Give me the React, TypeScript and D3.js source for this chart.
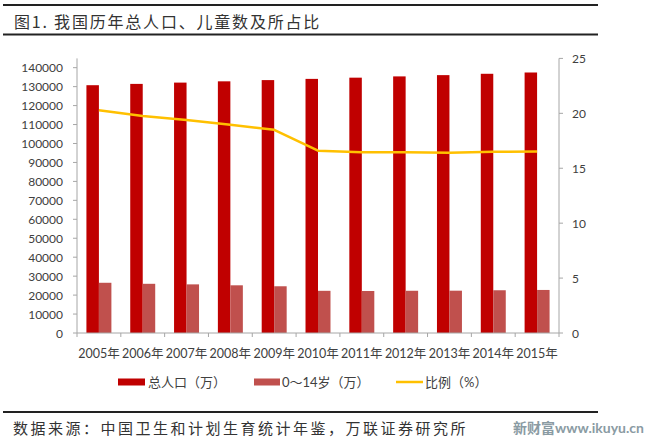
import React from "react";
import * as d3 from "d3";

const years = ["2005年", "2006年", "2007年", "2008年", "2009年", "2010年", "2011年", "2012年", "2013年", "2014年", "2015年"];
const totalPop = [130756, 131448, 132129, 132802, 133450, 134091, 134735, 135404, 136072, 136782, 137462];
const childPop = [26504, 25961, 25660, 25166, 24659, 22259, 22164, 22287, 22329, 22558, 22715];
const ratio = [20.27, 19.75, 19.4, 18.95, 18.5, 16.6, 16.45, 16.46, 16.41, 16.49, 16.52];
const leftTicks = [0, 10000, 20000, 30000, 40000, 50000, 60000, 70000, 80000, 90000, 100000, 110000, 120000, 130000, 140000];
const rightTicks = [0, 5, 10, 15, 20, 25];
const legendLabels = ["总人口（万）", "0～14岁（万）", "比例（%）"];
const title = "图1. 我国历年总人口、儿童数及所占比";
const source = "数据来源：中国卫生和计划生育统计年鉴，万联证券研究所";
const watermark = "新财富www.ikuyu.cn";

const C_TOTAL = "#C00000";
const C_CHILD = "#C0504D";
const C_LINE = "#FFC000";
const AXIS = "#A6A6A6";
const TXT = "#404040";
const FONT = "Lato, 'Noto Sans CJK SC', sans-serif";
const CJK = "'Noto Sans CJK SC', sans-serif";

export default function App() {
  const W = 660, H = 440;
  const x0 = 77, x1 = 559, yBottom = 333, yTop = 58.4;
  const x = d3.scaleBand<string>().domain(years).range([x0, x1]).paddingInner(0).paddingOuter(0);
  const yL = d3.scaleLinear().domain([0, 144900]).range([yBottom, yTop]);
  const yR = d3.scaleLinear().domain([0, 25]).range([yBottom, yTop]);
  const bw = x.bandwidth() * 0.285;
  const line = d3.line<number>()
    .x((_, i) => (x(years[i]) as number) + x.bandwidth() / 2)
    .y((d) => yR(d));

  return (
    <svg width={W} height={H} style={{ position: "absolute", left: 0, top: 0, background: "#fff" }}>
      {/* header */}
      <line x1={3} x2={598} y1={5} y2={5} stroke="#222" strokeWidth={2.2} />
      <line x1={3} x2={598} y1={34.5} y2={34.5} stroke="#222" strokeWidth={2.2} />
      <text x={14} y={21} dominantBaseline="central" fontFamily={CJK} fontSize={16} fill="#333" letterSpacing={1.8}>{title}</text>

      {/* bars */}
      {years.map((yr, i) => {
        const cx = (x(yr) as number) + x.bandwidth() / 2;
        return (
          <g key={yr}>
            <rect x={cx - bw} y={yL(totalPop[i])} width={bw} height={yBottom - yL(totalPop[i])} fill={C_TOTAL} />
            <rect x={cx} y={yL(childPop[i])} width={bw} height={yBottom - yL(childPop[i])} fill={C_CHILD} />
          </g>
        );
      })}

      {/* axes */}
      <line x1={x0} x2={x0} y1={yTop} y2={yBottom} stroke={AXIS} />
      <line x1={x1} x2={x1} y1={yTop} y2={yBottom} stroke={AXIS} />
      <line x1={x0} x2={x1} y1={yBottom} y2={yBottom} stroke={AXIS} />
      {leftTicks.map((t) => (
        <g key={"l" + t}>
          <line x1={x0 - 4} x2={x0} y1={yL(t)} y2={yL(t)} stroke={AXIS} />
          <text x={63} y={yL(t)} textAnchor="end" dominantBaseline="central" fontFamily={FONT} fontSize={12} fill={TXT}>{t}</text>
        </g>
      ))}
      {rightTicks.map((t) => (
        <g key={"r" + t}>
          <line x1={x1} x2={x1 + 4} y1={yR(t)} y2={yR(t)} stroke={AXIS} />
          <text x={572} y={yR(t)} dominantBaseline="central" fontFamily={FONT} fontSize={12} fill={TXT}>{t}</text>
        </g>
      ))}
      {[...years, "end"].map((yr, i) => {
        const xx = x0 + i * x.bandwidth();
        return <line key={"t" + i} x1={xx} x2={xx} y1={yBottom} y2={yBottom + 4} stroke={AXIS} />;
      })}
      {years.map((yr) => (
        <text key={"x" + yr} x={(x(yr) as number) + x.bandwidth() / 2} y={353} textAnchor="middle" dominantBaseline="central" fontFamily={FONT} fontSize={12.5} fill={TXT}>{yr}</text>
      ))}

      {/* line */}
      <path d={line(ratio) as string} fill="none" stroke={C_LINE} strokeWidth={2.5} strokeLinejoin="round" />

      {/* legend */}
      <rect x={118} y={378.5} width={27} height={7} fill={C_TOTAL} />
      <text x={148} y={382} dominantBaseline="central" fontFamily={FONT} fontSize={13} fill={TXT}>{legendLabels[0]}</text>
      <rect x={254} y={378.5} width={26} height={7} fill={C_CHILD} />
      <text x={282} y={382} dominantBaseline="central" fontFamily={FONT} fontSize={13} fill={TXT}>{legendLabels[1]}</text>
      <line x1={396} x2={423} y1={382} y2={382} stroke={C_LINE} strokeWidth={2.5} />
      <text x={425} y={382} dominantBaseline="central" fontFamily={FONT} fontSize={13} fill={TXT}>{legendLabels[2]}</text>

      {/* footer */}
      <line x1={3} x2={598} y1={412} y2={412} stroke="#222" strokeWidth={2.2} />
      <text x={13} y={427} dominantBaseline="central" fontFamily={CJK} fontSize={15} fill="#333" letterSpacing={2.5}>{source}</text>
      <text x={513} y={427} dominantBaseline="central" fontFamily={FONT} fontSize={14} fontWeight="bold" fill="#8a9ba3">{watermark}</text>
    </svg>
  );
}
